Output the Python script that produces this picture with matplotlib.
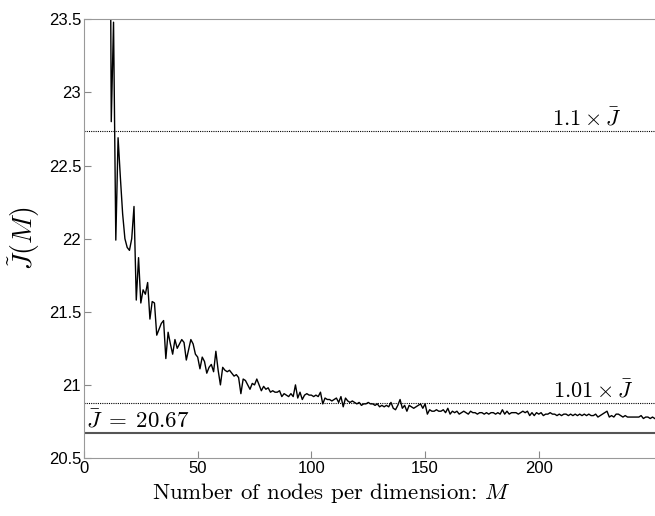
import matplotlib
matplotlib.use('Agg')
import matplotlib.pyplot as plt
from matplotlib.ticker import FormatStrFormatter

plt.rcParams['mathtext.fontset'] = 'cm'
plt.rcParams['font.family'] = ['Liberation Sans', 'DejaVu Sans']

# number of nodes per dimension M (first value lies above the plot window)
m_start = 11
j_values = [
    26.00, 22.80, 23.48, 21.99, 22.69, 22.42, 22.17, 22.00, 21.94, 21.92,
    22.00, 22.22, 21.58, 21.87, 21.56, 21.65, 21.62, 21.70, 21.45, 21.57,
    21.56, 21.34, 21.38, 21.42, 21.44, 21.18, 21.36, 21.28, 21.21, 21.31,
    21.25, 21.28, 21.31, 21.29, 21.17, 21.24, 21.31, 21.28, 21.21, 21.19,
    21.11, 21.19, 21.16, 21.08, 21.12, 21.14, 21.09, 21.23, 21.10, 21.00,
    21.12, 21.10, 21.09, 21.10, 21.08, 21.06, 21.07, 21.05, 20.94, 21.04,
    21.03, 21.00, 20.97, 21.01, 21.00, 21.04, 21.00, 20.96, 20.99, 20.97,
    20.98, 20.95, 20.96, 20.95, 20.95, 20.96, 20.92, 20.94, 20.93, 20.92,
    20.94, 20.92, 21.00, 20.91, 20.95, 20.90, 20.93, 20.94, 20.93, 20.93,
    20.92, 20.93, 20.92, 20.95, 20.87, 20.91, 20.90, 20.90, 20.89, 20.90,
    20.91, 20.88, 20.92, 20.85, 20.91, 20.89, 20.88, 20.89, 20.88, 20.87,
    20.88, 20.86, 20.87, 20.87, 20.88, 20.87, 20.87, 20.86, 20.87, 20.85,
    20.86, 20.85, 20.86, 20.85, 20.88, 20.84, 20.83, 20.86, 20.90, 20.84,
    20.86, 20.82, 20.86, 20.85, 20.84, 20.85, 20.86, 20.87, 20.84, 20.87,
    20.80, 20.83, 20.82, 20.82, 20.83, 20.82, 20.82, 20.83, 20.81, 20.84,
    20.80, 20.82, 20.81, 20.82, 20.80, 20.81, 20.82, 20.81, 20.80, 20.82,
    20.81, 20.81, 20.80, 20.81, 20.81, 20.80, 20.81, 20.80, 20.81, 20.81,
    20.80, 20.81, 20.80, 20.83, 20.80, 20.82, 20.80, 20.81, 20.81, 20.81,
    20.80, 20.81, 20.82, 20.81, 20.82, 20.79, 20.81, 20.79, 20.81, 20.80,
    20.81, 20.79, 20.80, 20.80, 20.81, 20.80, 20.80, 20.79, 20.80, 20.79,
    20.80, 20.80, 20.79, 20.80, 20.79, 20.80, 20.79, 20.80, 20.79, 20.80,
    20.79, 20.80, 20.79, 20.79, 20.80, 20.78, 20.79, 20.80, 20.81, 20.82,
    20.78, 20.79, 20.78, 20.80, 20.80, 20.79, 20.78, 20.79, 20.78, 20.78,
    20.78, 20.78, 20.78, 20.78, 20.79, 20.77, 20.78, 20.78, 20.77, 20.78,
    20.77,
]
m_values = list(range(m_start, m_start + len(j_values)))

j_bar = 20.67
ref_factors = [1.1, 1.01]
ref_labels = [r'$1.1\times\bar{J}$', r'$1.01\times\bar{J}$']
x_ticks = [0, 50, 100, 150, 200]
y_ticks = [20.5, 21, 21.5, 22, 22.5, 23, 23.5]

fig = plt.figure(figsize=(6.55, 5.16), dpi=100)
ax = fig.add_axes([0.1282, 0.1124, 0.8718, 0.8502])

ax.plot(m_values, j_values, color='black', linewidth=1.0)

# reference levels
for f, lab, xpos in zip(ref_factors, ref_labels, [221, 224]):
    ax.axhline(f * j_bar, color='black', linestyle=(0, (1, 1)), linewidth=0.8)
    ax.text(xpos, f * j_bar + 0.005, lab, ha='center', va='bottom', fontsize=16)
ax.axhline(j_bar, color='#555555', linewidth=1.5)
ax.text(1, j_bar + 0.005, r'$\bar{J}\;=\;20.67$', ha='left', va='bottom', fontsize=16.5)

ax.set_xlim(0, 251.1)
ax.set_ylim(20.5, 23.5)
ax.set_xticks(x_ticks)
ax.set_yticks(y_ticks)
ax.yaxis.set_major_formatter(FormatStrFormatter('%g'))
ax.tick_params(direction='in', length=5, color='#888888', labelsize=12, pad=2)
ax.spines['right'].set_visible(False)
for s in ['left', 'bottom', 'top']:
    ax.spines[s].set_color('#999999')

ax.set_xlabel(r'Number of nodes per dimension: $M$', family='serif',
              fontname='cmr10', fontsize=16.5, labelpad=4)
ax.xaxis.set_label_coords(0.4326, -0.052)
ax.set_ylabel(r'$\tilde{J}(M)$', fontsize=20, labelpad=5)

fig.savefig('out.png', dpi=100)
